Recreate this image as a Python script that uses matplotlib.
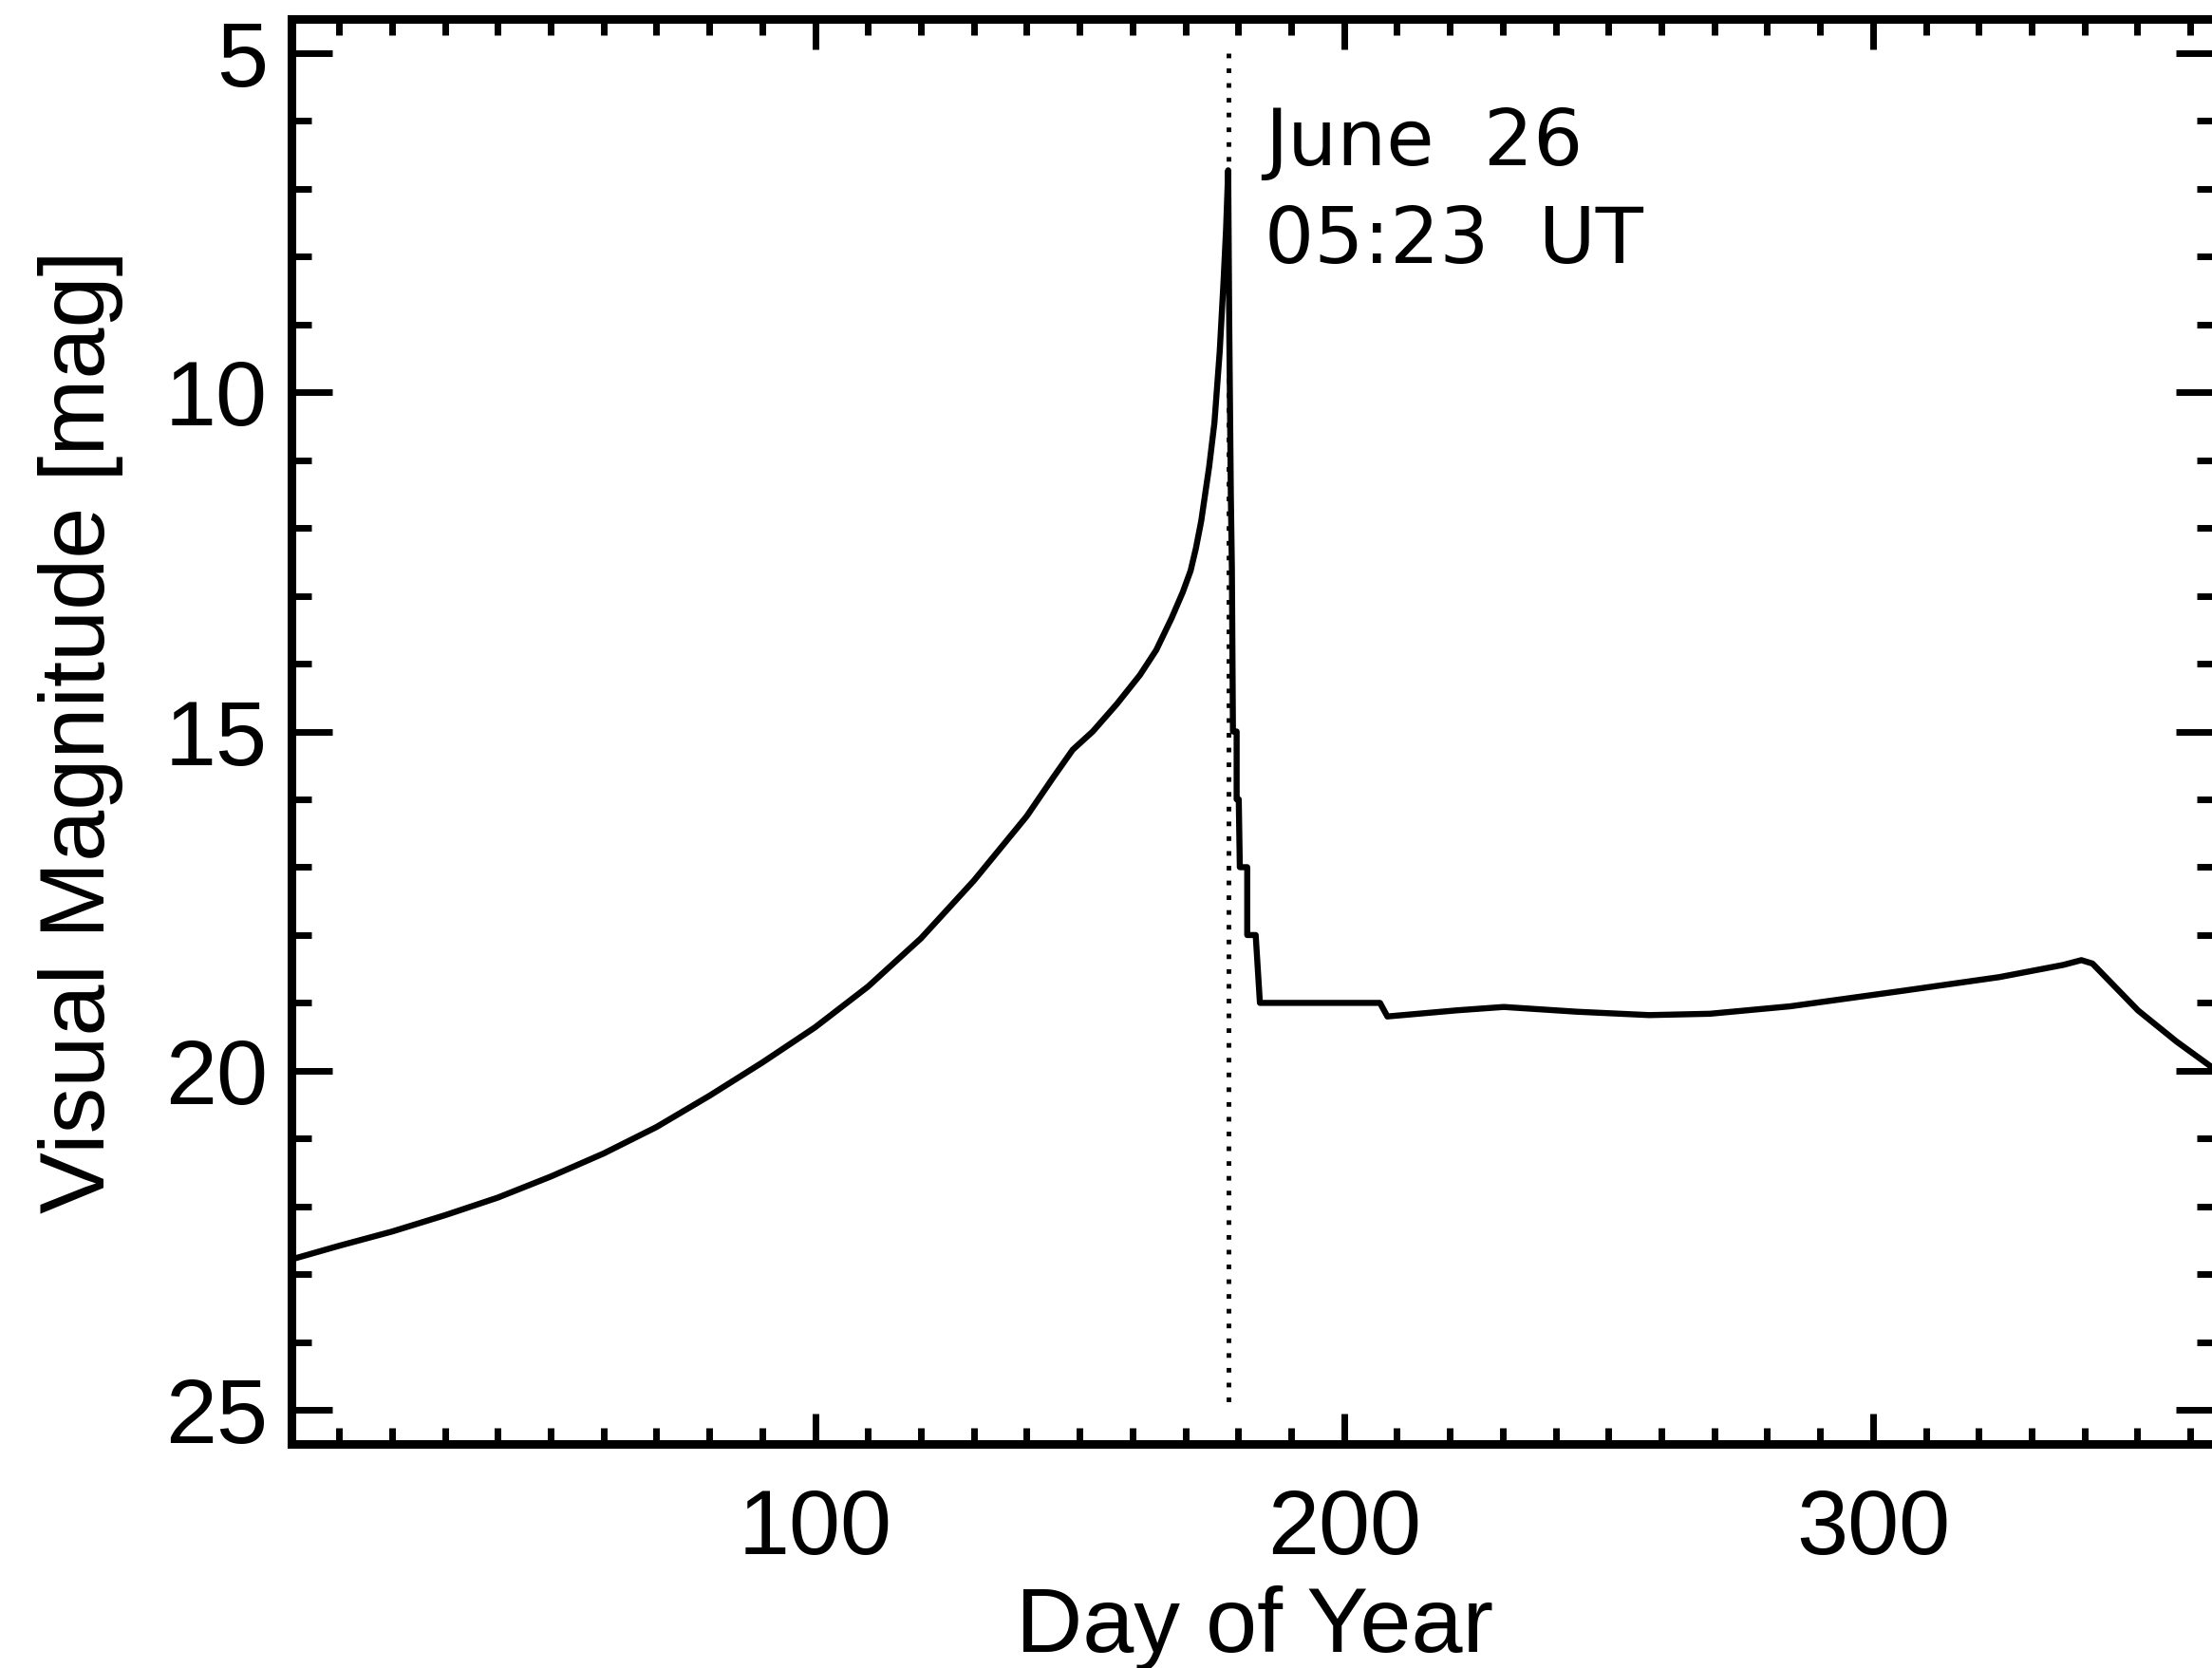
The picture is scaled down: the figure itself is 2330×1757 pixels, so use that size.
"""
Light curve — visual magnitude vs day of year
=============================================
Single panel, inverted magnitude axis, dotted marker at perihelion.
"""
import matplotlib
matplotlib.use("Agg")
import matplotlib.pyplot as plt
from matplotlib.ticker import MultipleLocator

# ── data ─────────────────────────────────────────────────────────────────────

DAY = [1, 10, 20, 30, 40, 50, 60, 70, 80, 90, 100, 110, 120, 130, 140,
       145, 148.7, 152.5, 157, 161.4, 164.5, 167.4, 169.5, 171, 172, 173,
       174.5, 175.5, 176.5, 177.2, 177.7, 178.1,
       178.3, 178.6, 178.8, 179.0, 179.7, 179.7, 180.1, 180.3, 181.7,
       181.7, 183.3, 184.1, 206.8, 208.2, 221.3, 230.2, 244.0, 257.7,
       269.2, 284.4, 305.8, 323.9, 336.0, 339.4, 341.5, 350.1, 357.4, 365]
MAG = [22.78, 22.58, 22.37, 22.13, 21.87, 21.56, 21.22, 20.83, 20.37, 19.88,
       19.36, 18.76, 18.05, 17.2, 16.25,
       15.68, 15.27, 15.0, 14.6, 14.17, 13.8, 13.33, 12.95, 12.63, 12.3, 11.9,
       11.1, 10.45, 9.4, 8.4, 7.6, 6.73,
       9.0, 11.5, 12.6, 15.0, 15.0, 16.0, 16.0, 17.0, 17.0,
       18.0, 18.0, 19.0, 19.0, 19.2, 19.11, 19.06, 19.13, 19.18,
       19.16, 19.05, 18.82, 18.62, 18.44, 18.37, 18.42, 19.11, 19.57, 20.0]

PEAK_DAY   = 178.1
PEAK_LINE  = [5.0, 25.0]
PEAK_TEXT  = ["June  26", "05:23  UT"]
TEXT_DAY   = 185.0
TEXT_MAG   = [6.66, 8.09]

X_LIM      = (1, 365)
Y_LIM      = (25.5, 4.5)
X_LABEL    = "Day of Year"
Y_LABEL    = "Visual Magnitude [mag]"

W, H, DPI  = 2330, 1757, 100
AX_FONT    = "Liberation Sans"
NOTE_FONT  = "DejaVu Sans"


def main():
    fig = plt.figure(figsize=(W / DPI, H / DPI), dpi=DPI)
    ax = fig.add_axes([307 / W, (H - 1521) / H, 2028 / W, 1501 / H])

    ax.plot(DAY, MAG, color="black", lw=4.6)
    ax.plot([PEAK_DAY, PEAK_DAY], PEAK_LINE, color="black", lw=3.5,
            linestyle=(0, (1, 2.2)))

    for line, mag in zip(PEAK_TEXT, TEXT_MAG):
        ax.text(TEXT_DAY, mag, line, fontsize=59, family=NOTE_FONT,
                ha="left", va="baseline")

    ax.set_xlim(*X_LIM)
    ax.set_ylim(*Y_LIM)

    # ── axes styling (IDL-like box with inward ticks) ────────────────────────
    ax.xaxis.set_major_locator(MultipleLocator(100))
    ax.xaxis.set_minor_locator(MultipleLocator(10))
    ax.yaxis.set_major_locator(MultipleLocator(5))
    ax.yaxis.set_minor_locator(MultipleLocator(1))

    for sp in ax.spines.values():
        sp.set_linewidth(6.5)

    ax.tick_params(which="both", direction="in", top=True, right=True,
                   width=5, labelsize=70)
    ax.tick_params(axis="x", which="major", length=23, pad=33)
    ax.tick_params(axis="x", which="minor", length=12)
    ax.tick_params(axis="y", which="major", length=31, pad=18)
    ax.tick_params(axis="y", which="minor", length=15)
    for lab in ax.get_xticklabels() + ax.get_yticklabels():
        lab.set_family(AX_FONT)

    ax.set_xlabel(X_LABEL, fontsize=70, family=AX_FONT)
    ax.set_ylabel(Y_LABEL, fontsize=70, family=AX_FONT)
    ax.xaxis.set_label_coords(0.5, -0.0993)
    ax.yaxis.set_label_coords(-0.0874, 0.5)

    fig.savefig("out.png", dpi=DPI)
    plt.close(fig)


if __name__ == "__main__":
    main()
